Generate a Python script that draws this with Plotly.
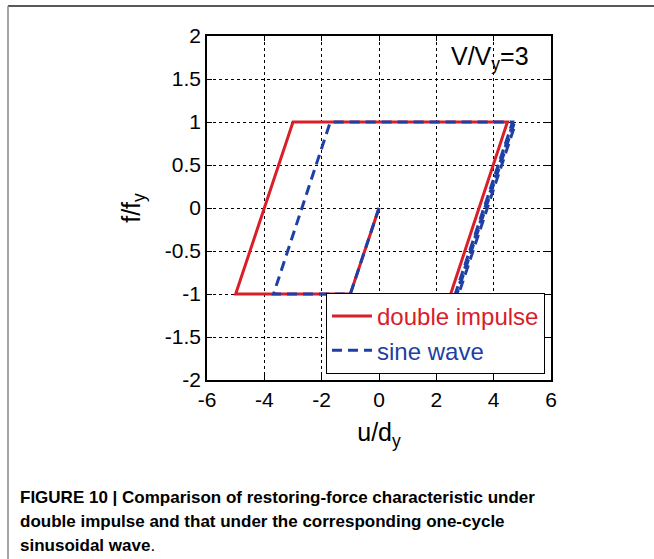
import plotly.graph_objects as go

# ---- data ----
impulse_u = [0, -1, -5.0, -3.0, 4.48, 2.50]
impulse_f = [0, -1, -1, 1, 1, -1]
sine_u = [0, -1, -3.68, -1.70, 4.66, 2.66, 2.78, 4.76, 4.71, 2.72, 2.69, 4.69]
sine_f = [0, -1, -1, 1, 1, -1, -1, 0.98, 0.98, -1, -1, 1]
x_ticks = [-6, -4, -2, 0, 2, 4, 6]
y_ticks = [-2, -1.5, -1, -0.5, 0, 0.5, 1, 1.5, 2]
y_tick_text = ["-2", "-1.5", "-1", "-0.5", "0", "0.5", "1", "1.5", "2"]
caption_lines = [
    "FIGURE 10 | Comparison of restoring-force characteristic under",
    "double impulse and that under the corresponding one-cycle",
    "sinusoidal wave",
]

RED = "#d8202a"
BLUE = "#1d3fa6"
W, H = 654, 559
L, R, T, B = 207, 551, 36, 380  # plot area in pixels


def px(xp):
    return (xp - L) / (R - L)


def py(yp):
    return (B - yp) / (B - T)


FONT = "Arial, Liberation Sans, sans-serif"

fig = go.Figure()
fig.add_trace(go.Scatter(
    x=impulse_u, y=impulse_f, mode="lines",
    line=dict(color=RED, width=3),
    name=f'<span style="color:{RED}">double impulse</span>'))
fig.add_trace(go.Scatter(
    x=sine_u, y=sine_f, mode="lines",
    line=dict(color=BLUE, width=3, dash="10px,6px"),
    name=f'<span style="color:{BLUE}">sine wave</span>'))

axis_common = dict(
    showgrid=True, gridcolor="black", gridwidth=1, griddash="dot",
    zeroline=False, showline=True, linecolor="black", linewidth=1.5,
    mirror="allticks", ticks="inside", ticklen=5, tickcolor="black",
    tickfont=dict(family=FONT, size=21, color="black"),
    automargin=False,
)

fig.update_xaxes(range=[-6, 6], tickvals=x_ticks, ticktext=[str(v) for v in x_ticks],
                 title=dict(text="u/d<sub>y</sub>", font=dict(family=FONT, size=25, color="black"), standoff=14),
                 **axis_common)
fig.update_yaxes(range=[-2, 2], tickvals=y_ticks, ticktext=y_tick_text,
                 title=dict(text="f/f<sub>y</sub>", font=dict(family=FONT, size=25, color="black"), standoff=17),
                 **axis_common)

fig.add_annotation(xref="paper", yref="paper", x=px(449), y=py(40), xanchor="left", yanchor="top",
                   text="V/V<sub>y</sub>=3", showarrow=False,
                   font=dict(family=FONT, size=25, color="black"))

caption_y = [497, 521, 545]
for i, (line, yc) in enumerate(zip(caption_lines, caption_y)):
    txt = f"<b>{line}</b>" + ("." if i == len(caption_lines) - 1 else "")
    fig.add_annotation(xref="paper", yref="paper", x=px(18), y=py(yc), xanchor="left", yanchor="middle",
                       text=txt, showarrow=False, align="left",
                       font=dict(family=FONT, size=17, color="black"))

# page frame lines
fig.add_shape(type="line", xref="paper", yref="paper", x0=px(8), x1=px(654), y0=py(6), y1=py(6),
              line=dict(color="#222222", width=1.5))
fig.add_shape(type="line", xref="paper", yref="paper", x0=px(8), x1=px(8), y0=py(6), y1=py(559),
              line=dict(color="#888888", width=1.5))

fig.update_layout(
    width=W, height=H,
    margin=dict(l=L, r=W - R, t=T, b=H - B, pad=0, autoexpand=False),
    paper_bgcolor="white", plot_bgcolor="white",
    showlegend=True,
    legend=dict(x=px(545), y=py(374), xanchor="right", yanchor="bottom",
                bgcolor="white", bordercolor="black", borderwidth=1,
                font=dict(family=FONT, size=24), tracegroupgap=0,
                itemwidth=40),
)

fig.write_html("out.html", config={"displayModeBar": False},
               post_script="document.body.style.margin='0';document.body.style.padding='0';")
